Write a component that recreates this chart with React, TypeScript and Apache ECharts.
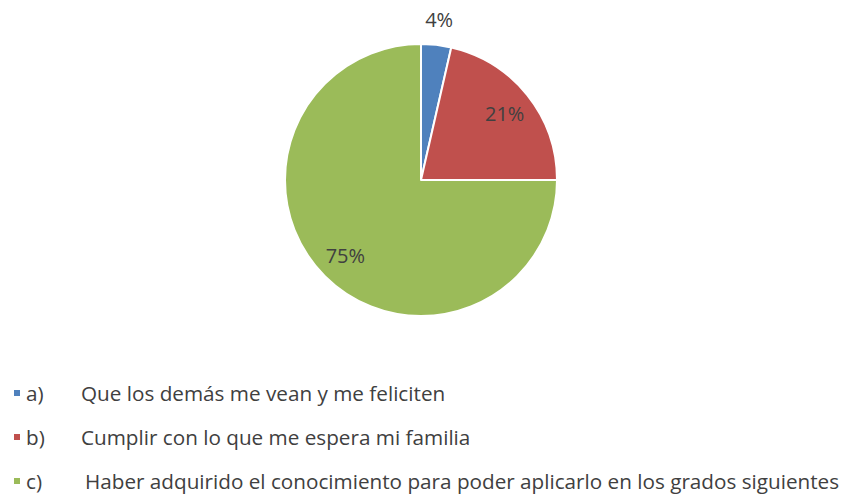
import React, { useEffect, useRef } from "react";
import * as echarts from "echarts";

const keys = ["a)", "b)", "c)"];
const categories = [
  "Que los demás me vean y me feliciten",
  "Cumplir con lo que me espera mi familia",
  "Haber adquirido el conocimiento para poder aplicarlo en los grados siguientes",
];
const values = [1, 6, 21];
const colors = ["#4F81BD", "#C0504D", "#9BBB59"];
const innerLabel = [false, true, true];

export default function App() {
  const ref = useRef<HTMLDivElement>(null);
  useEffect(() => {
    document.body.style.margin = "0";
    const chart = echarts.init(ref.current!, null, { renderer: "svg" });
    const font = "'Open Sans', 'Noto Sans', sans-serif";
    const total = values.reduce((a, b) => a + b, 0);
    const names = categories.map((c, i) => keys[i] + " " + c);
    const fs = 20.7;
    const labelSeries = (radius: number[], showFor: boolean[]) => ({
      type: "pie",
      center: [421, 180],
      radius,
      startAngle: 90,
      clockwise: true,
      silent: true,
      legendHoverLink: false,
      itemStyle: { color: "rgba(0,0,0,0)", borderWidth: 0 },
      labelLine: { show: false },
      data: values.map((v, i) => ({
        name: names[i],
        value: v,
        label: {
          show: showFor[i],
          position: "inside",
          formatter: () => Math.round((v / total) * 100) + "%",
          fontFamily: font,
          fontSize: 20,
          color: "#404040",
        },
      })),
    });
    chart.setOption({
      animation: false,
      backgroundColor: "#ffffff",
      legend: {
        orient: "vertical",
        left: 12,
        top: 381,
        bottom: 0,
        padding: 0,
        itemWidth: 8,
        itemHeight: 8,
        itemGap: 20,
        icon: "rect",
        data: names,
        formatter: (name: string) => {
          const i = names.indexOf(name);
          const style = i === 2 ? "kc" : "k";
          return `{${style}|${keys[i]}}${categories[i]}`;
        },
        textStyle: {
          fontFamily: font,
          fontSize: fs,
          color: "#404040",
          lineHeight: 24,
          rich: {
            k: { width: 55, fontFamily: font, fontSize: fs, color: "#404040", lineHeight: 24 },
            kc: { width: 59, fontFamily: font, fontSize: fs, color: "#404040", lineHeight: 24 },
          },
        },
      },
      series: [
        {
          type: "pie",
          center: [421, 180],
          radius: [0, 136],
          startAngle: 90,
          clockwise: true,
          silent: true,
          label: { show: false },
          labelLine: { show: false },
          itemStyle: { borderColor: "#ffffff", borderWidth: 2 },
          data: values.map((v, i) => ({
            name: names[i],
            value: v,
            itemStyle: { color: colors[i] },
          })),
        },
        labelSeries([72, 136], innerLabel),
        labelSeries([136, 182], innerLabel.map((b) => !b)),
      ],
    });
    return () => chart.dispose();
  }, []);
  return (
    <div
      ref={ref}
      style={{ width: 844, height: 496, position: "absolute", left: 0, top: 0 }}
    />
  );
}
